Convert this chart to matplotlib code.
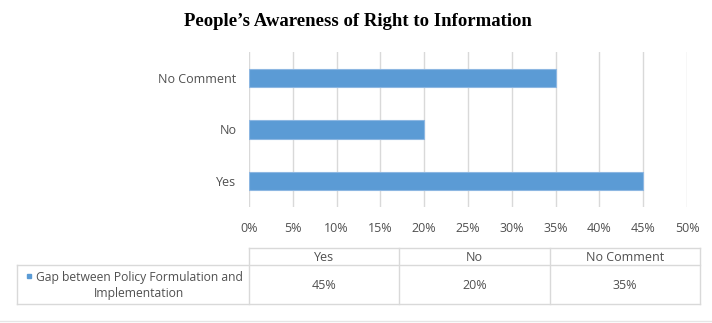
import matplotlib.pyplot as plt
from matplotlib.ticker import PercentFormatter

categories = ['Yes', 'No', 'No Comment']
values = [45, 20, 35]
series_name = 'Gap between Policy Formulation and\nImplementation'
x_ticks = [0, 5, 10, 15, 20, 25, 30, 35, 40, 45, 50]

W, H = 712, 323
bar_color = '#5B9BD5'
text_color = '#505050'
line_color = '#D9D9D9'
font = 'Open Sans'
fs = 9

fig = plt.figure(figsize=(W / 100, H / 100), dpi=100)
fig.patch.set_facecolor('white')

# plot area, placed in pixel units
left, right, top, bottom = 249, 687, 52, 207
ax = fig.add_axes([left / W, 1 - bottom / H, (right - left) / W, (bottom - top) / H])

pos = range(len(categories))
ax.barh(pos, values, height=0.35, color=bar_color, edgecolor='#8DB7E2', linewidth=0.8, zorder=3)
ax.set_xlim(0, 50)
ax.set_ylim(-0.5, 2.5)
ax.set_xticks(x_ticks)
ax.xaxis.set_major_formatter(PercentFormatter(decimals=0))
ax.set_yticks(list(pos))
ax.set_yticklabels(categories)
ax.grid(axis='x', color=line_color, linewidth=1, zorder=0)
for s in ax.spines.values():
    s.set_visible(False)
ax.tick_params(length=0, labelcolor=text_color, labelsize=fs)
ax.tick_params(axis='x', pad=11)
ax.tick_params(axis='y', pad=9)
for lbl in ax.get_xticklabels() + ax.get_yticklabels():
    lbl.set_fontfamily(font)

fig.text(358 / W, 1 - 22 / H, "People\u2019s Awareness of Right to Information",
         ha='center', va='center', fontsize=13.5, fontweight='bold',
         family='Liberation Serif', color='black')

# data table under the chart, drawn on an overlay in pixel coordinates
ov = fig.add_axes([0, 0, 1, 1])
ov.set_xlim(0, W)
ov.set_ylim(H, 0)
ov.axis('off')

t_left, t_right = 249, 700
label_left = 17
row_top, row_mid, row_bot = 248, 265, 304
col_w = (t_right - t_left) / len(categories)
cols = [t_left + i * col_w for i in range(len(categories) + 1)]

kw = dict(color=line_color, linewidth=1)
ov.plot([t_left, t_right], [row_top, row_top], **kw)
ov.plot([label_left, t_right], [row_mid, row_mid], **kw)
ov.plot([label_left, t_right], [row_bot, row_bot], **kw)
ov.plot([label_left, label_left], [row_mid, row_bot], **kw)
for c in cols:
    ov.plot([c, c], [row_top, row_bot], **kw)
ov.plot([0, W], [321, 321], color='#E6E6E6', linewidth=1)

for i, (cat, v) in enumerate(zip(categories, values)):
    cx = (cols[i] + cols[i + 1]) / 2
    ov.text(cx, (row_top + row_mid) / 2 + 1, cat, ha='center', va='center',
            fontsize=fs, family=font, color=text_color)
    ov.text(cx, (row_mid + row_bot) / 2 + 1, f'{v}%', ha='center', va='center',
            fontsize=fs, family=font, color=text_color)

ov.plot([29], [276], marker='s', markersize=3.5, color=bar_color, linestyle='none')
ov.text(139, (row_mid + row_bot) / 2 + 1, series_name, ha='center', va='center',
        fontsize=8.7, family=font, color=text_color, linespacing=1.25)

fig.savefig('out.png', dpi=100)
